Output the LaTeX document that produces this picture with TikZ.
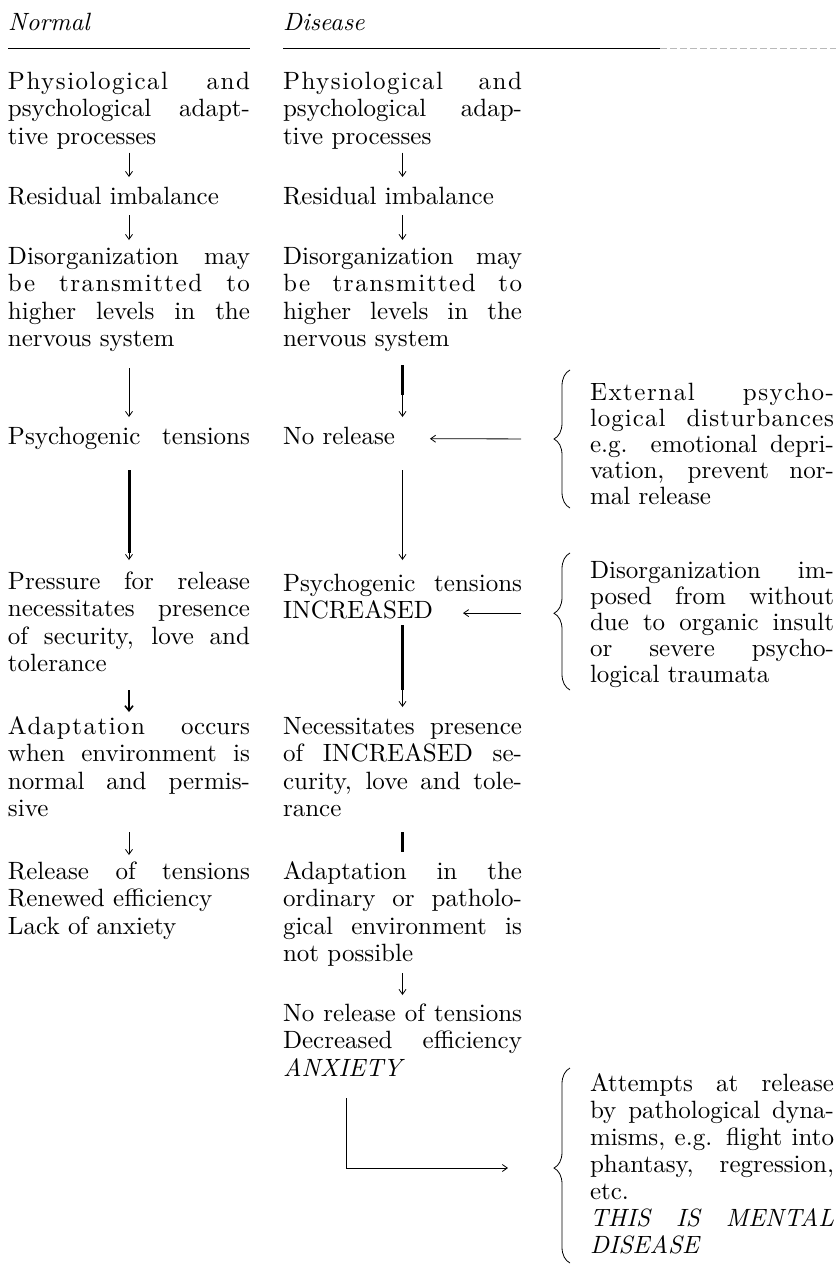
\documentclass[tikz,border=0pt]{standalone}
\usepackage{fontspec}
\setmainfont{lmroman10-regular.otf}[ItalicFont=lmroman10-italic.otf]
\usetikzlibrary{arrows.meta,decorations.pathreplacing}
\newlength\cw
\newcommand\Jl[1]{\makebox[\cw][s]{\strut#1}}
\newcommand\Lf[1]{\makebox[\cw][l]{\strut#1}}
\newcommand\lsp[2][6]{{\addfontfeature{LetterSpace=#1}#2}}
\begin{document}
\begin{tikzpicture}[x=1pt,y=-1pt,
  blk/.style={anchor=north west, inner sep=0pt, outer sep=0pt, align=left, font=\fontsize{25}{27.6}\selectfont},
  bblk/.style={blk, font=\fontsize{25}{26}\selectfont},
  bblk3/.style={blk, font=\fontsize{25}{27}\selectfont},
  hdr/.style={anchor=west, inner sep=0pt, font=\fontsize{25}{27.6}\selectfont\itshape},
  ar/.style={line width=0.8pt, -{Straight Barb[length=5pt,width=7pt,line width=0.8pt]}},
  bar/.style={line width=3pt},
  brace/.style={decorate, decoration={brace, amplitude=16pt, aspect=#1}, line width=0.8pt},
  rulel/.style={line width=1pt}
]
\useasboundingbox (0,0) rectangle (836,1264);

% headers
\node[hdr] (hN) at (8,22) {Normal};
\node[hdr] (hD) at (283,22) {Disease};
\draw[rulel] (8,48) -- (250,48);
\draw[rulel] (283,48) -- (660,48);
\draw[line width=1pt, gray!55, dash pattern=on 7pt off 3pt] (660,48) -- (836,48);

% left column
\global\cw=242pt
\node[blk] (L1) at (8,69.7) {\Jl{\lsp{Physiological and}}\\ \Jl{psychological adapt-}\\ \Lf{tive processes}};
\node[blk] (L2) at (8,184.7) {\Lf{Residual imbalance}};
\node[blk] (L3) at (8,244.7) {\Jl{Disorganization may}\\ \Jl{\lsp{be transmitted to}}\\ \Jl{higher levels in the}\\ \Lf{nervous system}};
\node[blk] (L4) at (8,424.7) {\Jl{Psychogenic tensions}};
\node[blk] (L5) at (8,569.7) {\Jl{Pressure for release}\\ \Jl{necessitates presence}\\ \Jl{of security, love and}\\ \Lf{tolerance}};
\node[blk] (L6) at (8,714.7) {\Jl{\lsp{Adaptation} occurs}\\ \Jl{when environment is}\\ \Jl{normal and permis-}\\ \Lf{sive}};
\node[blk] (L7) at (8,859.7) {\Jl{Release of tensions}\\ \Lf{Renewed efficiency}\\ \Lf{Lack of anxiety}};

% right column
\global\cw=239pt
\node[blk] (R1) at (283,69.7) {\Jl{\lsp{Physiological and}}\\ \Jl{psychological adap-}\\ \Lf{tive processes}};
\node[blk] (R2) at (283,184.7) {\Lf{Residual imbalance}};
\node[blk] (R3) at (283,244.7) {\Jl{Disorganization may}\\ \Jl{\lsp{be transmitted to}}\\ \Jl{higher levels in the}\\ \Lf{nervous system}};
\node[blk] (R4) at (283,424.7) {\strut No release};
\node[blk] (R5a) at (283,571.7) {\Jl{Psychogenic tensions}};
\node[blk] (R5b) at (R5a.south west) {\strut INCREASED};
\node[blk] (R6) at (283,714.7) {\Jl{Necessitates presence}\\ \Jl{of INCREASED se-}\\ \Jl{curity, love and tole-}\\ \Lf{rance}};
\node[blk] (R7) at (283,859.7) {\Jl{Adaptation in the}\\ \Jl{ordinary or patholo-}\\ \Jl{gical environment is}\\ \Lf{not possible}};
\node[blk] (R8) at (283,1001.7) {\Jl{No release of tensions}\\ \Jl{Decreased efficiency}\\ \Lf{\itshape ANXIETY}};

% brace texts
\global\cw=244pt
\node[bblk] (B1) at (590,381.8) {\Jl{\lsp{External psycho-}}\\ \Jl{\lsp[4]{logical disturbances}}\\ \Jl{e.g. emotional depri-}\\ \Jl{vation, prevent nor-}\\ \Lf{mal release}};
\node[bblk] (B2) at (590,559.8) {\Jl{Disorganization im-}\\ \Jl{posed from without}\\ \Jl{due to organic insult}\\ \Jl{or severe psycho-}\\ \Lf{logical traumata}};
\node[bblk3] (B3) at (590,1072.1) {\Jl{Attempts at release}\\ \Jl{by pathological dyna-}\\ \Jl{misms, e.g. flight into}\\ \Jl{phantasy, regression,}\\ \Lf{etc.}\\ \Jl{\itshape THIS IS MENTAL}\\ \Lf{\itshape DISEASE}};

% braces
\coordinate (b1s) at (570,508);
\coordinate (b1e) at (570,370);
\coordinate (b1tip) at (554,439);
\draw[brace=0.5] (b1s) -- (b1e);
\coordinate (b2s) at (570,690);
\coordinate (b2e) at (570,553);
\coordinate (b2tip) at (554,613);
\draw[brace=0.56] (b2s) -- (b2e);
\coordinate (b3s) at (570,1263);
\coordinate (b3e) at (570,1068);
\coordinate (b3tip) at (554,1168);
\draw[brace=0.487] (b3s) -- (b3e);

% left arrows
\draw[ar, shorten >=7.7pt] (L1.south) -- (L2.north);
\draw[ar, shorten <=2.7pt, shorten >=4.7pt] (L2.south) -- (L3.north);
\draw[ar, shorten <=13pt, shorten >=7.7pt] (L3.south) -- (L4.north);
\draw[ar, shorten <=17.7pt, shorten >=9.7pt] (L4.south) -- (L5.north);
\draw[bar, shorten <=17.7pt, shorten >=16.7pt] (L4.south) -- (L5.north);
\draw[line width=2pt, -{Straight Barb[length=5pt,width=8pt,line width=1.6pt]}, shorten <=10pt, shorten >=2.7pt] (L5.south) -- (L6.north);
\draw[ar, shorten <=7pt, shorten >=4.7pt] (L6.south) -- (L7.north);

% right arrows
\draw[ar, shorten >=7.7pt] (R1.south) -- (R2.north);
\draw[ar, shorten <=2.7pt, shorten >=4.7pt] (R2.south) -- (R3.north);
\draw[ar, shorten <=10pt, shorten >=7.7pt] (R3.south) -- (R3.south |- R4.north);
\draw[bar, shorten <=10pt, shorten >=29.7pt] (R3.south) -- (R3.south |- R4.north);
\draw[ar, shorten <=17.7pt, shorten >=11.7pt] (R5a.north |- R4.south) -- (R5a.north);
\draw[ar, shorten <=25.7pt, shorten >=7.7pt] (R5a.south) -- (R6.north);
\draw[bar, shorten <=25.7pt, shorten >=24.7pt] (R5a.south) -- (R6.north);
\draw[bar, shorten <=7pt, shorten >=7.7pt] (R6.south) -- (R7.north);
\draw[ar, shorten <=3pt, shorten >=6.7pt] (R7.south) -- (R8.north);

% side arrows
\draw[ar, shorten <=33pt, shorten >=35pt] (b1tip) -- (R4);
\draw[ar, shorten <=33pt, shorten >=30pt] (R5b -| b2tip) -- (R5b);
\coordinate (k1) at (346,1098);
\draw[ar, shorten >=46pt] (k1) |- (b3tip);
\end{tikzpicture}
\end{document}
